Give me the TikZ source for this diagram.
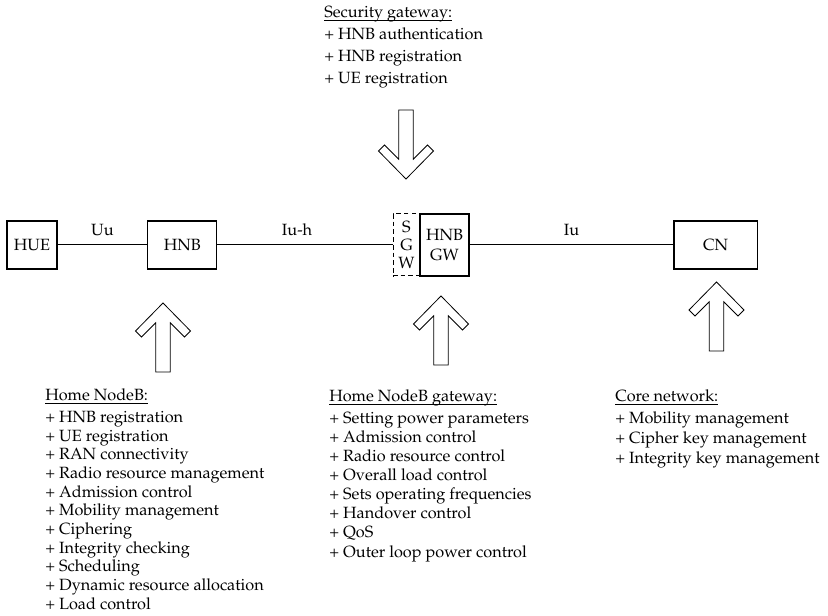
\documentclass[tikz,border=0pt]{standalone}
\usepackage[T1]{fontenc}
\usepackage{mathpazo}
% underlined heading of a function list
\newcommand\headline[1]{\setbox0=\hbox{#1}\rlap{\rule[-2.2pt]{\wd0}{0.5pt}}\box0}
\begin{document}
\begin{tikzpicture}[x=0.75pt,y=-0.75pt,
  every node/.style={font=\fontsize{12.2}{14}\selectfont},
  unit/.style={draw,line width=0.9pt,minimum height=36pt,inner sep=0pt},
  link/.style={line width=0.75pt},
  lbl/.style={inner sep=0pt,above=6.4pt},
  fatarrow/.style={line width=0.6pt,line join=miter},
  info/.style={anchor=base west,inner sep=0pt,align=left},
  hollow arrow/.pic={
    \draw[fatarrow] (0,0) -- (27.5,28) -- (21.5,34) -- (7.3,19.8) -- (7.3,69)
      -- (-7.3,69) -- (-7.3,19.8) -- (-21.5,34) -- (-27.5,28) -- cycle;
  },
]
\useasboundingbox (0,0) rectangle (828,616);

% network elements
\node[unit,minimum width=37.5pt] (hue) at (32,245) {HUE};
\node[unit,minimum width=51.75pt] (hnb) at (182.3,245) {HNB};
\node[draw,line width=0.75pt,dash pattern=on 3.5pt off 2.3pt,
      minimum width=20.25pt,minimum height=46.5pt,inner sep=0pt,align=center,
      font=\fontsize{12.2}{13.5}\selectfont] (sgw) at (406.5,245) {S\\G\\W};
\node[unit,minimum width=36.75pt,minimum height=46.5pt,align=center,
      font=\fontsize{12.2}{15}\selectfont] (hnbgw) at (444.5,245) {HNB\\GW};
\node[unit,minimum width=62.5pt] (cn) at (715.7,245) {CN};

% interfaces
\draw[link] (hue) -- node[lbl] (uu) {Uu} (hnb);
\draw[link] (hnb) -- node[lbl,pos=0.455] (iuh) {Iu-h} (sgw);
\draw[link] (hnbgw) -- node[lbl] (iu) {Iu} (cn);

% function arrows
\pic at (406,179) [rotate=180] {hollow arrow};
\pic at (163,303) {hollow arrow};
\pic at (441,296) {hollow arrow};
\pic at (716.5,282) {hollow arrow};

% function lists (each anchored at the baseline of its last line)
\node[info,font=\fontsize{12.2}{16.5}\selectfont] (secgw) at (324,84) {%
  \headline{Security gateway:}\\
  + HNB authentication\\
  + HNB registration\\
  + UE registration};

\node[info] (hnbfun) at (45,609) {%
  \headline{Home NodeB:}\\[2.1pt]
  + HNB registration\\
  + UE registration\\
  + RAN connectivity\\
  + Radio resource management\\
  + Admission control\\
  + Mobility management\\
  + Ciphering\\
  + Integrity checking\\
  + Scheduling\\
  + Dynamic resource allocation\\
  + Load control};

\node[info,font=\fontsize{12.2}{14.35}\selectfont] (gwfun) at (329,557) {%
  \headline{Home NodeB gateway:}\\[2pt]
  + Setting power parameters\\
  + Admission control\\
  + Radio resource control\\
  + Overall load control\\
  + Sets operating frequencies\\
  + Handover control\\
  + QoS\\
  + Outer loop power control};

\node[info,font=\fontsize{12.2}{15}\selectfont] (cnfun) at (615,463) {%
  \headline{Core network:}\\[0.8pt]
  + Mobility management\\
  + Cipher key management\\
  + Integrity key management};
\end{tikzpicture}
\end{document}
